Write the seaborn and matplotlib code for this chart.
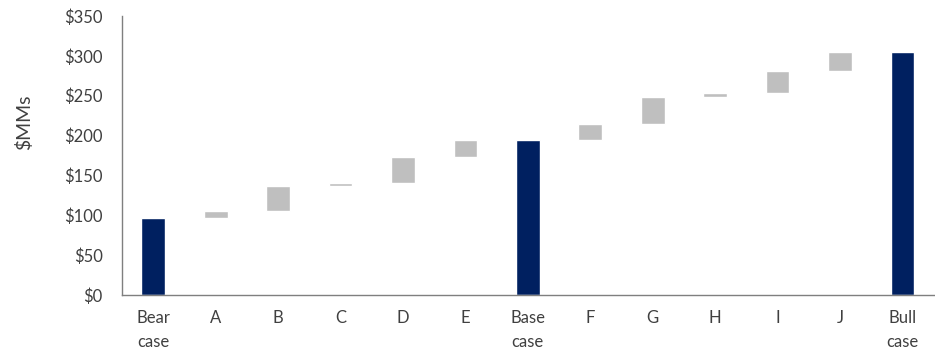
import numpy as np
import pandas as pd
import matplotlib
matplotlib.use("Agg")
import matplotlib.pyplot as plt
import seaborn as sns

# Waterfall: bear case -> base case -> bull case ($MMs)
categories = ["Bear\ncase", "A", "B", "C", "D", "E", "Base\ncase",
              "F", "G", "H", "I", "J", "Bull\ncase"]
bear_case = 97
steps_to_base = [8, 32, 4, 32, 22]      # A..E
steps_to_bull = [20, 33, 5, 28, 24]     # F..J
y_ticks = [0, 50, 100, 150, 200, 250, 300, 350]

base_case = bear_case + sum(steps_to_base)
bull_case = base_case + sum(steps_to_bull)

# totals (dark bars)
total_df = pd.DataFrame({"cat": [categories[0], categories[6], categories[12]],
                         "value": [bear_case, base_case, bull_case]})

# floating steps (grey bars) with their starting level
step_cats = categories[1:6] + categories[7:12]
step_vals = steps_to_base + steps_to_bull
starts = []
level = bear_case
for d in step_vals:
    starts.append(level)
    level += d
step_df = pd.DataFrame({"cat": step_cats, "delta": step_vals, "start": starts})

sns.set_theme(style="white")
plt.rcParams["font.family"] = ["Lato", "DejaVu Sans"]

fig = plt.figure(figsize=(9.35, 3.54), dpi=100)
ax = fig.add_axes([0.1305, 0.1667, 0.868, 0.788])

navy = "#002060"
grey = "#BFBFBF"

sns.barplot(data=total_df, x="cat", y="value", order=categories, color=navy,
            saturation=1, width=0.38, ax=ax, errorbar=None)
sns.barplot(data=step_df, x="cat", y="delta", order=categories, color=grey,
            saturation=1, width=0.38, ax=ax, errorbar=None,
            bottom=step_df["start"].to_numpy())

ax.set_ylim(0, 350)
ax.set_xlim(-0.5, len(categories) - 0.5)
ax.set_yticks(y_ticks)
ax.set_yticklabels([f"${v}" for v in y_ticks])
ax.set_xlabel("")
ax.set_ylabel("$MMs", fontsize=14, color="#404040")
ax.yaxis.set_label_coords(-0.11, 0.62)

for side in ["top", "right"]:
    ax.spines[side].set_visible(False)
for side in ["left", "bottom"]:
    ax.spines[side].set_color("#7f7f7f")
    ax.spines[side].set_linewidth(1.0)

ax.tick_params(axis="y", length=0, labelsize=12, labelcolor="#404040", pad=14)
ax.tick_params(axis="x", length=0, labelsize=12, labelcolor="#404040", pad=11)
for lbl in ax.get_xticklabels():
    lbl.set_linespacing(1.6)
    lbl.set_verticalalignment("top")

fig.savefig("out.png", dpi=100, facecolor="white")
